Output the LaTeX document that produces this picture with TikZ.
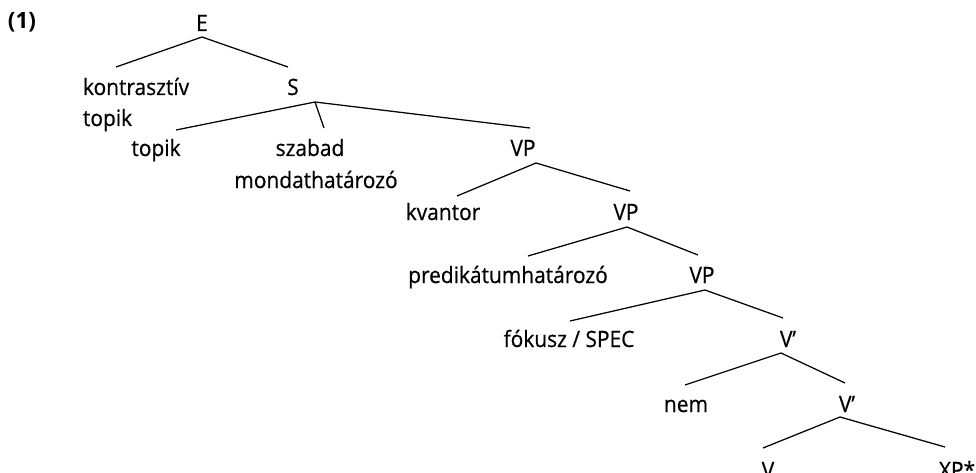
\documentclass[tikz,border=0pt]{standalone}
\usepackage{fontspec}
\setmainfont{Open Sans}
\newfontfamily\treefont{Open Sans}[FakeBold=0.6, FakeStretch=0.93]
\begin{document}
\begin{tikzpicture}[x=1pt,y=-1pt,
  lbl/.style={inner sep=0pt, outer sep=0pt, anchor=base, font=\treefont\fontsize{22.5}{27}\selectfont,
    text height=16pt, text depth=0pt},
  lblw/.style={lbl, anchor=base west},
  edge/.style={line width=1.25pt, line cap=butt}]
\useasboundingbox (0,0) rectangle (976,473);
% example number
\node[lblw, font=\fontsize{22.5}{27}\selectfont\bfseries] (num) at (8,29) {(1)};
% tree labels
\node[lbl] (E) at (202,31) {E};
\node[lblw] (kt) at (83,95) {kontrasztív};
\node[lblw] (kt2) at (83,126) {topik};
\node[lbl] (S) at (293,95) {S};
\node[lbl] (top) at (156,156) {topik};
\node[lbl] (szab) at (310,156) {szabad};
\node[lbl] (szab2) at (316,188) {mondathatározó};
\node[lbl] (vpa) at (523,156) {VP};
\node[lbl] (kv) at (443,220) {kvantor};
\node[lbl] (vpb) at (626,220) {VP};
\node[lbl] (pred) at (508,283) {predikátumhatározó};
\node[lbl] (vpc) at (702,283) {VP};
\node[lbl] (foc) at (569,347) {fókusz / SPEC};
\node[lbl] (vba) at (788,347) {V’};
\node[lbl] (nem) at (686,412) {nem};
\node[lbl] (vbb) at (847,412) {V’};
\node[lbl] (V) at (768,478) {V};
\node[lbl] (xp) at (957,478) {XP*};
% branches
\draw[edge] ([yshift=-6pt]E.south) -- ([xshift=33pt,yshift=12pt]kt.north west);
\draw[edge] ([yshift=-6pt]E.south) -- ([xshift=-5pt,yshift=12pt]S.north);
\draw[edge] ([xshift=22pt,yshift=-7pt]S.south) -- ([xshift=20pt,yshift=10pt]top.north);
\draw[edge] ([xshift=22pt,yshift=-7pt]S.south) -- ([xshift=14pt,yshift=12pt]szab.north);
\draw[edge] ([xshift=22pt,yshift=-7pt]S.south) -- ([xshift=7pt,yshift=12pt]vpa.north);
\draw[edge] ([xshift=13pt,yshift=-7pt]vpa.south) -- ([xshift=14pt,yshift=8pt]kv.north);
\draw[edge] ([xshift=13pt,yshift=-7pt]vpa.south) -- ([xshift=4pt,yshift=13pt]vpb.north);
\draw[edge] ([xshift=1pt,yshift=-7pt]vpb.south) -- ([xshift=20pt,yshift=11pt]pred.north);
\draw[edge] ([xshift=1pt,yshift=-7pt]vpb.south) -- ([xshift=-4pt,yshift=12pt]vpc.north);
\draw[edge] ([xshift=3pt,yshift=-7pt]vpc.south) -- ([xshift=1pt,yshift=10pt]foc.north);
\draw[edge] ([xshift=3pt,yshift=-7pt]vpc.south) -- ([xshift=-5pt,yshift=13pt]vba.north);
\draw[edge] ([xshift=-7pt,yshift=-6pt]vba.south) -- ([xshift=-1pt,yshift=11pt]nem.north);
\draw[edge] ([xshift=-7pt,yshift=-6pt]vba.south) -- ([xshift=-2pt,yshift=13pt]vbb.north);
\draw[edge] ([xshift=-7pt,yshift=-5pt]vbb.south) -- ([xshift=-5pt,yshift=14pt]V.north);
\draw[edge] ([xshift=-7pt,yshift=-5pt]vbb.south) -- ([xshift=-12pt,yshift=15pt]xp.north);
\end{tikzpicture}
\end{document}
